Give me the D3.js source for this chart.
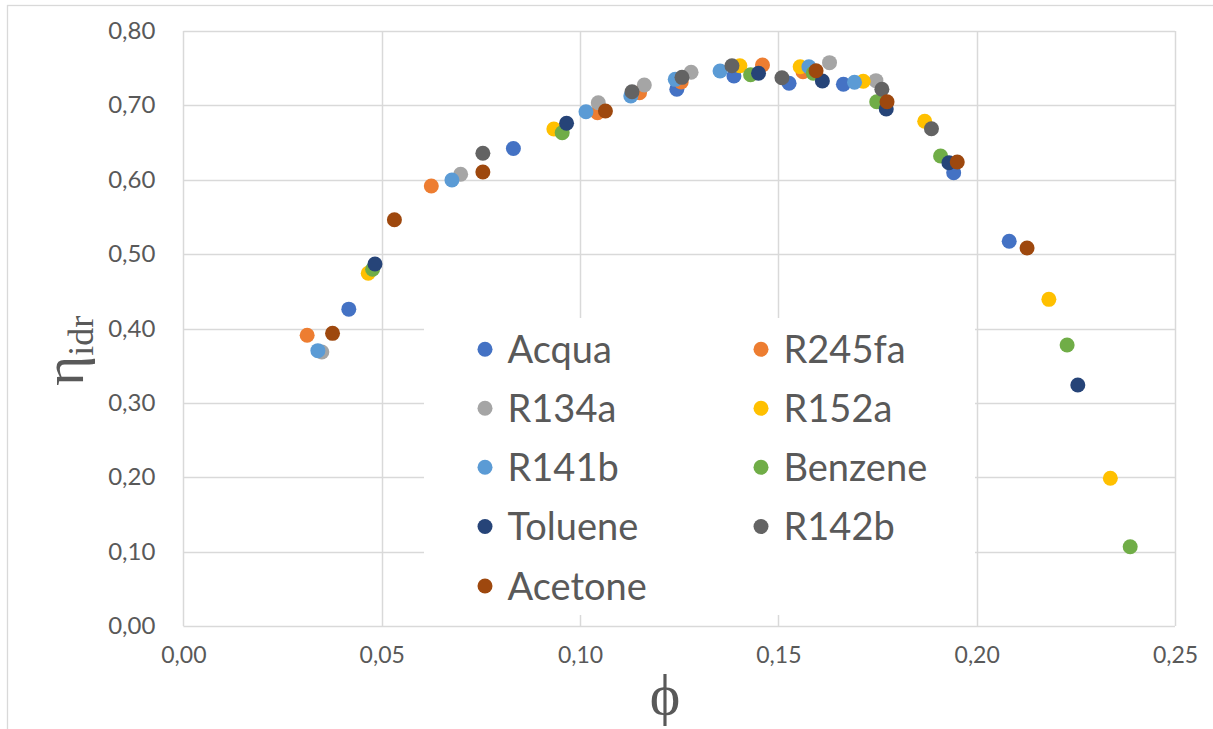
<!DOCTYPE html>
<html>
<head>
<meta charset="utf-8">
<script src="https://cdn.jsdelivr.net/npm/d3@7"></script>
<style>
  html, body { margin: 0; padding: 0; background: #fff; }
  svg { display: block; }
</style>
</head>
<body>
<svg id="chart" width="1213" height="729"></svg>
<script>
// ---------------- DATA ----------------
const seriesNames = ["Acqua", "R245fa", "R134a", "R152a", "R141b", "Benzene", "Toluene", "R142b", "Acetone"];
const seriesColors = ["#4472C4", "#ED7D31", "#A5A5A5", "#FFC000", "#5B9BD5", "#70AD47", "#264478", "#636363", "#9E480E"];

const acquaX   = [0.0417, 0.0832, 0.1244, 0.1388, 0.1527, 0.1664, 0.1942, 0.2082];
const acquaY   = [0.426, 0.642, 0.7215, 0.7394, 0.7296, 0.7282, 0.6094, 0.5172];
const r245faX  = [0.0312, 0.0625, 0.1044, 0.1150, 0.1255, 0.1460, 0.1562];
const r245faY  = [0.3909, 0.5915, 0.690, 0.717, 0.7313, 0.7542, 0.7452];
const r134aX   = [0.0349, 0.0699, 0.1046, 0.1162, 0.1280, 0.1629, 0.1746];
const r134aY   = [0.3684, 0.6073, 0.7035, 0.7273, 0.7444, 0.7573, 0.7331];
const r152aX   = [0.0466, 0.0934, 0.1403, 0.1555, 0.1714, 0.1869, 0.2182, 0.2337];
const r152aY   = [0.4742, 0.6681, 0.7532, 0.7519, 0.7323, 0.6785, 0.4392, 0.1987];
const r141bX   = [0.0339, 0.0677, 0.1015, 0.1128, 0.1240, 0.1353, 0.1577, 0.1692];
const r141bY   = [0.3702, 0.5996, 0.6914, 0.7125, 0.7349, 0.7461, 0.7519, 0.7309];
const benzeneX = [0.0477, 0.0955, 0.1430, 0.1588, 0.1748, 0.1909, 0.2228, 0.2387];
const benzeneY = [0.4796, 0.6632, 0.7411, 0.7430, 0.7048, 0.6319, 0.3778, 0.1067];
const tolueneX = [0.0483, 0.0966, 0.1450, 0.1611, 0.1772, 0.1930, 0.2255];
const tolueneY = [0.4867, 0.6758, 0.7430, 0.7327, 0.6950, 0.6228, 0.3241];
const r142bX   = [0.0755, 0.1131, 0.1257, 0.1383, 0.1509, 0.1761, 0.1886];
const r142bY   = [0.6355, 0.7183, 0.7376, 0.7532, 0.7371, 0.7215, 0.6685];
const acetoneX = [0.0376, 0.0532, 0.0755, 0.1064, 0.1595, 0.1774, 0.1951, 0.2127];
const acetoneY = [0.3935, 0.5462, 0.6103, 0.6923, 0.7465, 0.7048, 0.6238, 0.5082];

const xTicks = [0, 0.05, 0.10, 0.15, 0.20, 0.25];
const yTicks = [0, 0.10, 0.20, 0.30, 0.40, 0.50, 0.60, 0.70, 0.80];

const seriesX = [acquaX, r245faX, r134aX, r152aX, r141bX, benzeneX, tolueneX, r142bX, acetoneX];
const seriesY = [acquaY, r245faY, r134aY, r152aY, r141bY, benzeneY, tolueneY, r142bY, acetoneY];

// ---------------- LAYOUT ----------------
const svg = d3.select("#chart");
const plot = { left: 183.4, right: 1175, top: 30.9, bottom: 626.1 };
const gridColor = "#D9D9D9";
const textColor = "#595959";
const uiFont = "Lato, 'Open Sans', sans-serif";
const mathFont = "'Liberation Serif', 'DejaVu Serif', serif";

const x = d3.scaleLinear().domain([0, 0.25]).range([plot.left, plot.right]);
const y = d3.scaleLinear().domain([0, 0.8]).range([plot.bottom, plot.top]);
const fmt = v => d3.format(".2f")(v).replace(".", ",");

// outer chart border
svg.append("rect")
  .attr("x", 7.5).attr("y", 5.5)
  .attr("width", 1212).attr("height", 730)
  .attr("fill", "#fff").attr("stroke", gridColor).attr("stroke-width", 1.3);

// gridlines
const grid = svg.append("g");
grid.selectAll("line.h").data(yTicks).join("line")
  .attr("x1", plot.left).attr("x2", plot.right)
  .attr("y1", d => Math.round(y(d)) + 0.5).attr("y2", d => Math.round(y(d)) + 0.5)
  .attr("stroke", gridColor).attr("stroke-width", 1.5);
grid.selectAll("line.v").data(xTicks).join("line")
  .attr("y1", plot.top).attr("y2", plot.bottom)
  .attr("x1", d => Math.round(x(d)) + 0.5).attr("x2", d => Math.round(x(d)) + 0.5)
  .attr("stroke", gridColor).attr("stroke-width", 1.5);

// axes (labels only)
const yAxis = d3.axisLeft(y).tickValues(yTicks).tickFormat(fmt).tickSize(0).tickPadding(28);
const gy = svg.append("g").attr("transform", `translate(${plot.left},0)`).call(yAxis);
gy.select(".domain").remove();
gy.selectAll("text").attr("fill", textColor).style("font-family", uiFont).style("font-size", "24px");

const xAxis = d3.axisBottom(x).tickValues(xTicks).tickFormat(fmt).tickSize(0).tickPadding(21);
const gx = svg.append("g").attr("transform", `translate(0,${plot.bottom})`).call(xAxis);
gx.select(".domain").remove();
gx.selectAll("text").attr("fill", textColor).style("font-family", uiFont).style("font-size", "23px");

// points
const pts = svg.append("g");
seriesNames.forEach((name, i) => {
  const data = seriesX[i].map((v, j) => [v, seriesY[i][j]]);
  pts.append("g").selectAll("circle").data(data).join("circle")
    .attr("cx", d => x(d[0])).attr("cy", d => y(d[1]))
    .attr("r", 7.5).attr("fill", seriesColors[i]);
});

// legend
const legend = svg.append("g");
legend.append("rect")
  .attr("x", 424).attr("y", 318).attr("width", 551).attr("height", 297)
  .attr("fill", "#fff");
const colX = [485, 761];
const rowY = [349.3, 408.3, 467.3, 526.5, 586];
seriesNames.forEach((name, i) => {
  const c = i % 2, r = Math.floor(i / 2);
  const g = legend.append("g").attr("transform", `translate(${colX[c]},${rowY[r]})`);
  g.append("circle").attr("r", 7.5).attr("fill", seriesColors[i]);
  g.append("text").attr("x", 22.5).attr("y", 0).attr("dy", "0.36em")
    .attr("fill", textColor).style("font-family", uiFont).style("font-size", "38px")
    .text(name);
});

// axis titles
const yt = svg.append("text")
  .attr("transform", "translate(83,386) rotate(-90)")
  .attr("fill", textColor).style("font-family", mathFont).style("font-size", "58px");
yt.append("tspan").text("η");
yt.append("tspan").attr("dy", "0.27em").style("font-size", "36px").text("idr");

svg.append("text")
  .attr("x", 665).attr("y", 714).attr("text-anchor", "middle")
  .attr("fill", textColor).style("font-family", mathFont).style("font-size", "58px")
  .text("ϕ");
</script>
</body>
</html>
